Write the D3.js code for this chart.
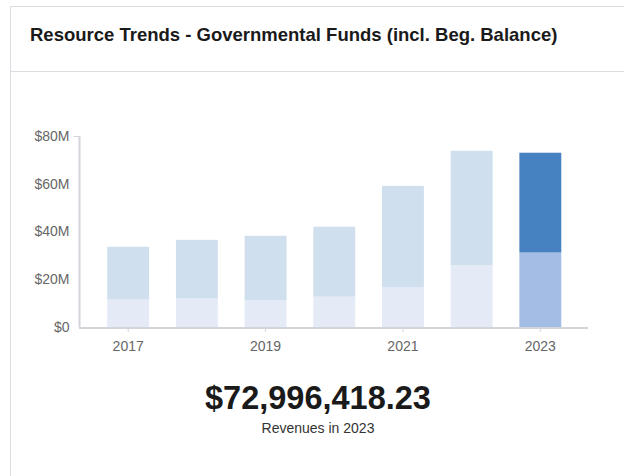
<!DOCTYPE html>
<html>
<head>
<meta charset="utf-8">
<script src="https://cdn.jsdelivr.net/npm/d3@7/dist/d3.min.js"></script>
<style>
  html, body { margin: 0; padding: 0; background: #fff; }
  body { width: 624px; height: 476px; overflow: hidden; font-family: "Liberation Sans", Arial, sans-serif; }
</style>
</head>
<body>
<svg id="chart" width="624" height="476"></svg>
<script>
// Fiscal years shown on the chart
const years = ["2017", "2018", "2019", "2020", "2021", "2022", "2023"];
// Beginning balance (lower segment), $M
const begBalance = [11.5, 12.0, 11.1, 12.7, 16.6, 25.8, 31.2];
// Revenues on top of the balance, $M
const revenues = [22.1, 24.5, 27.1, 29.3, 42.5, 48.0, 41.796418];
// Y axis ticks ($M) and labeled years
const yTicks = [0, 20, 40, 60, 80];
const yearTicks = ["2017", "2019", "2021", "2023"];
const headline = "$72,996,418.23";
const subline = "Revenues in 2023";
const title = "Resource Trends - Governmental Funds (incl. Beg. Balance)";

const FONT = "'Liberation Sans', Arial, sans-serif";
const svg = d3.select("#chart");

// Card frame
svg.append("rect").attr("x", 10.5).attr("y", 6.5).attr("width", 640).attr("height", 500)
  .attr("fill", "#fff").attr("stroke", "#dcdde2").attr("stroke-width", 1);
svg.append("line").attr("x1", 10).attr("x2", 624).attr("y1", 71.5).attr("y2", 71.5)
  .attr("stroke", "#dcdde2");
svg.append("text").attr("x", 30).attr("y", 41).text(title)
  .attr("font-size", 18.5).attr("font-weight", "bold").attr("fill", "#1a1a1a");

const x = d3.scaleBand().domain(years).range([82.5, 586]).paddingInner(0.39).paddingOuter(0.36);
const y = d3.scaleLinear().domain([0, 80]).range([327, 136]);

const rows = years.map((yr, i) => ({ year: yr, beg: begBalance[i], rev: revenues[i] }));
const stack = d3.stack().keys(["beg", "rev"])(rows);

const palette = {
  beg: { base: "#e4eaf6", last: "#a4bde4" },
  rev: { base: "#cfdfee", last: "#4681c2" }
};

const g = svg.append("g");
stack.forEach(layer => {
  g.selectAll(null).data(layer).enter().append("rect")
    .attr("x", d => x(d.data.year))
    .attr("width", x.bandwidth())
    .attr("y", d => y(d[1]))
    .attr("height", d => y(d[0]) - y(d[1]))
    .attr("fill", d => d.data.year === "2023" ? palette[layer.key].last : palette[layer.key].base);
});

// Y axis
const yAxis = svg.append("g").attr("transform", "translate(79.5,0)")
  .call(d3.axisLeft(y).tickValues(yTicks).tickSize(0).tickPadding(10)
    .tickFormat(d => "$" + d + (d === 0 ? "" : "M")));
yAxis.select(".domain").remove();
yAxis.append("line").attr("x1", 0).attr("x2", 0).attr("y1", y(80)).attr("y2", y(0))
  .attr("stroke", "#d3d5da").attr("stroke-width", 2);
yAxis.append("line").attr("x1", -6).attr("x2", 0).attr("y1", y(80) + 0.5).attr("y2", y(80) + 0.5)
  .attr("stroke", "#d3d5da").attr("stroke-width", 1);
yAxis.selectAll("text").attr("font-size", 14).attr("fill", "#666").attr("font-family", FONT);

// X axis
const xAxis = svg.append("g").attr("transform", `translate(0,${y(0)})`)
  .call(d3.axisBottom(x).tickValues(yearTicks).tickSize(5).tickPadding(9));
xAxis.select(".domain").remove();
xAxis.insert("line", ":first-child").attr("x1", 79).attr("x2", 588).attr("y1", 1).attr("y2", 1)
  .attr("stroke", "#d3d5da").attr("stroke-width", 2);
xAxis.selectAll(".tick line").attr("stroke", "#d3d5da");
xAxis.selectAll("text").attr("font-size", 14).attr("fill", "#666").attr("font-family", FONT);

// Headline figure
svg.append("text").attr("x", 318).attr("y", 409).attr("text-anchor", "middle")
  .attr("font-size", 32.5).attr("font-weight", "bold").attr("fill", "#1a1a1a").text(headline);
svg.append("text").attr("x", 318).attr("y", 433).attr("text-anchor", "middle")
  .attr("font-size", 14).attr("fill", "#333").text(subline);
</script>
</body>
</html>
